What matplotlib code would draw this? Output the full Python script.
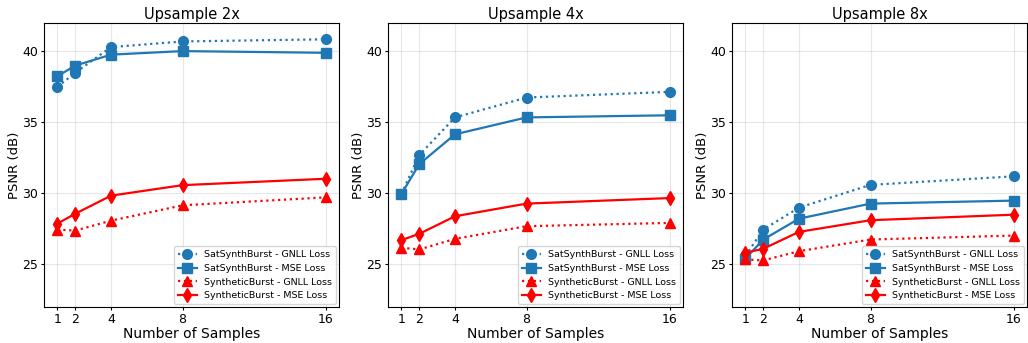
import matplotlib.pyplot as plt
import numpy as np

samples = [1, 2, 4, 8, 16]
titles = ["Upsample 2x", "Upsample 4x", "Upsample 8x"]

# PSNR (dB) per upsampling factor
sat_gnll = [
    [37.5, 38.5, 40.3, 40.7, 40.85],
    [29.95, 32.7, 35.35, 36.75, 37.15],
    [25.6, 27.45, 29.0, 30.6, 31.2],
]
sat_mse = [
    [38.25, 39.0, 39.77, 40.02, 39.9],
    [29.95, 32.06, 34.16, 35.35, 35.5],
    [25.4, 26.75, 28.22, 29.28, 29.49],
]
syn_gnll = [
    [27.45, 27.38, 28.08, 29.16, 29.72],
    [26.17, 26.05, 26.8, 27.69, 27.92],
    [25.35, 25.28, 25.93, 26.75, 27.03],
]
syn_mse = [
    [27.87, 28.57, 29.84, 30.58, 31.03],
    [26.71, 27.15, 28.39, 29.28, 29.67],
    [25.82, 26.1, 27.29, 28.11, 28.5],
]

blue = '#1f77b4'
red = 'red'

fig, axes = plt.subplots(1, 3, figsize=(10.28, 3.43), dpi=100)
fig.subplots_adjust(left=0.0428, right=0.999, bottom=0.105, top=0.933, wspace=0.166)

for i, ax in enumerate(axes):
    ax.plot(samples, sat_gnll[i], ':', marker='o', color=blue, lw=1.6, ms=7,
            label='SatSynthBurst - GNLL Loss')
    ax.plot(samples, sat_mse[i], '-', marker='s', color=blue, lw=1.6, ms=7,
            label='SatSynthBurst - MSE Loss')
    ax.plot(samples, syn_gnll[i], ':', marker='^', color=red, lw=1.6, ms=7,
            label='SyntheticBurst - GNLL Loss')
    ax.plot(samples, syn_mse[i], '-', marker='d', color=red, lw=1.6, ms=7,
            label='SyntheticBurst - MSE Loss')
    ax.set_ylim(22, 42)
    ax.set_xticks(samples)
    ax.set_yticks([25, 30, 35, 40])
    ax.grid(True, alpha=0.3)
    ax.set_title(titles[i], fontsize=10.5, pad=3)
    ax.set_xlabel('Number of Samples', fontsize=10, labelpad=1)
    ax.set_ylabel('PSNR (dB)', fontsize=9.5, labelpad=1)
    ax.tick_params(labelsize=9, length=2.5, pad=1.5)
    ax.legend(loc='lower right', fontsize=6.8, borderaxespad=0.3)

plt.savefig('out.png')
